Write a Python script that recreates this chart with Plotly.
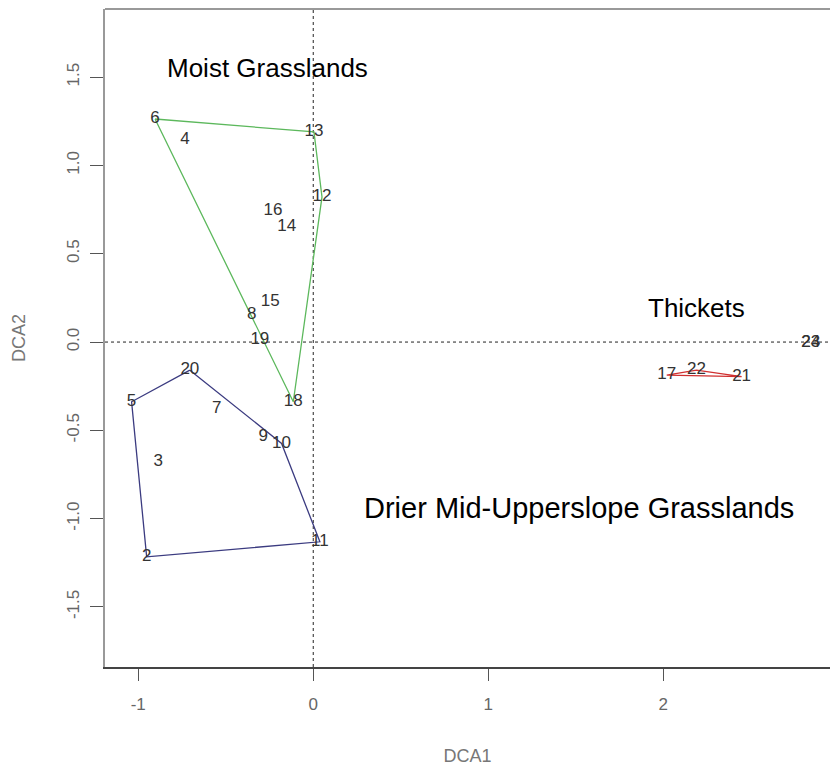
import plotly.graph_objects as go

# DCA site scores (axis 1 and axis 2) for the 24 sample sites
site_ids = ["2", "3", "4", "5", "6", "7", "8", "9", "10", "11", "12", "13",
            "14", "15", "16", "17", "18", "19", "20", "21", "22", "23", "24"]
dca1 = [-0.952, -0.886, -0.733, -1.038, -0.904, -0.552, -0.352, -0.286, -0.181,
        0.038, 0.050, 0.004, -0.152, -0.246, -0.230, 2.020, -0.114, -0.305,
        -0.705, 2.448, 2.190, 2.843, 2.843]
dca2 = [-1.216, -0.678, 1.144, -0.338, 1.263, -0.376, 0.153, -0.536, -0.574,
        -1.131, 0.822, 1.190, 0.653, 0.228, 0.742, -0.187, -0.338, 0.011,
        -0.159, -0.196, -0.159, -0.006, -0.006]

# Convex hulls of the three vegetation groups (site ids in drawing order)
hull_moist = ["6", "13", "12", "18", "6"]
hull_drier = ["20", "10", "11", "2", "5", "20"]
hull_thicket = ["17", "22", "21", "17"]

group_names = ["Moist Grasslands", "Thickets", "Drier Mid-Upperslope Grasslands"]
group_label_x = [-0.259, 2.191, 1.518]
group_label_y = [1.551, 0.195, -0.940]
group_label_size = [26, 26, 29]

x_ticks = [-1, 0, 1, 2]
y_ticks = [-1.5, -1.0, -0.5, 0.0, 0.5, 1.0, 1.5]

pos = {s: (a, b) for s, a, b in zip(site_ids, dca1, dca2)}

fig = go.Figure()

# dotted reference lines through the origin
fig.add_hline(y=0, line=dict(color="#222", width=1, dash="dot"), layer="below")
fig.add_vline(x=0, line=dict(color="#222", width=1, dash="dot"), layer="below")

for hull, col in [(hull_moist, "#5cb85c"), (hull_drier, "#3b3b80"), (hull_thicket, "#d03030")]:
    fig.add_trace(go.Scatter(
        x=[pos[s][0] for s in hull], y=[pos[s][1] for s in hull],
        mode="lines", line=dict(color=col, width=1.3), hoverinfo="skip",
    ))

fig.add_trace(go.Scatter(
    x=dca1, y=dca2, mode="text", text=site_ids, textposition="middle center",
    textfont=dict(family="Liberation Sans, Arial", size=17, color="#333"),
))

for name, gx, gy, gs in zip(group_names, group_label_x, group_label_y, group_label_size):
    fig.add_annotation(x=gx, y=gy, text=name, showarrow=False,
                       font=dict(family="Liberation Sans, Arial", size=gs, color="#000"),
                       xanchor="center", yanchor="middle")

# upper frame edge (lighter than the bottom axis)
fig.add_shape(type="line", xref="paper", yref="paper", x0=0, x1=1, y0=1, y1=1,
              line=dict(color="#999", width=2))

fig.update_layout(
    width=830, height=772,
    margin=dict(l=105, r=0, t=9, b=105),
    paper_bgcolor="white", plot_bgcolor="white",
    showlegend=False,
    font=dict(family="Liberation Sans, Arial", color="#666"),
)
fig.update_xaxes(
    range=[-1.19, 2.953], tickvals=x_ticks, ticktext=[str(v) for v in x_ticks],
    showgrid=False, zeroline=False, showline=True, linecolor="#444", linewidth=2,
    ticks="outside", ticklen=12, tickcolor="#555", tickwidth=1,
    ticklabelstandoff=9,
    tickfont=dict(size=17, color="#666"),
    title=dict(text="DCA1", font=dict(size=18, color="#777"), standoff=36),
)
fig.update_yaxes(
    range=[-1.84, 1.886], tickvals=y_ticks, ticktext=[f"{v:.1f}" for v in y_ticks],
    showgrid=False, zeroline=False, showline=True, linecolor="#999", linewidth=2,
    ticks="outside", ticklen=13, tickcolor="#555", tickwidth=1, tickangle=-90,
    ticklabelstandoff=4,
    tickfont=dict(size=17, color="#666"),
    title=dict(text="DCA2", font=dict(size=18, color="#777"), standoff=34),
)

fig.write_html("out.html")
